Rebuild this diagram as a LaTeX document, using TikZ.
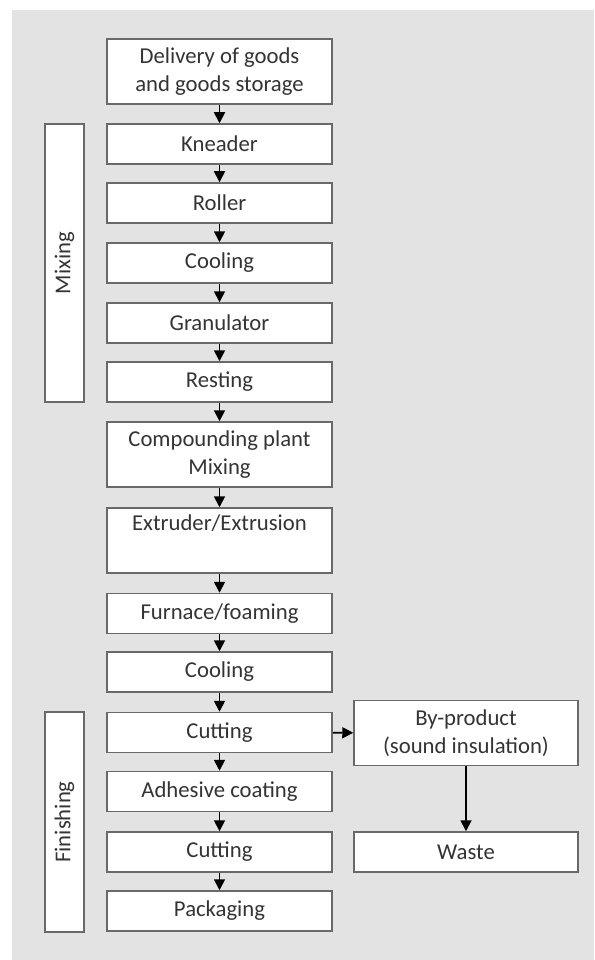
\documentclass[tikz,border=0pt]{standalone}
\usepackage{fontspec}
\setmainfont{Carlito}
\usetikzlibrary{graphs}
\usetikzlibrary{arrows.meta}
\definecolor{bggray}{RGB}{227,227,227}
\definecolor{linegray}{RGB}{105,105,105}
\definecolor{txtgray}{RGB}{52,52,52}
\tikzset{
  stage/.style= {draw=linegray, line width=1.5pt, fill=white, text=txtgray,
    minimum width=225pt, minimum height=40pt, inner sep=0pt, align=center,
    font=\fontsize{22.7}{28}\selectfont},
  tall/.style= {minimum height=65pt},
  phase/.style= {stage, rotate=90, minimum height=39pt},
  flow/.style= {-{Triangle[width=11pt,length=11pt]}, line width=1.8pt, black},
}

\begin{document}
\begin{tikzpicture}[x=1pt, y=-1pt]
  \useasboundingbox (0,0) rectangle (594,960);
  \fill [bggray] (12,10) rectangle (594,960);

  \node [stage, tall] (deliv) at (219.5,71.5) {Delivery of goods\\and goods storage};
  \node [stage] (knead) at (219.5,144) {Kneader};
  \node [stage] (roll) at (219.5,203) {Roller};
  \node [stage] (cool) at (219.5,263) {Cooling};
  \node [stage] (gran) at (219.5,323) {Granulator};
  \node [stage] (rest) at (219.5,382) {Resting};
  \node [stage, tall] (comp) at (219.5,454.5) {Compounding plant\\Mixing};
  \node [stage, tall] (extr) at (219.5,540.5) {Extruder/Extrusion\\\strut};
  \node [stage] (furn) at (219.5,613.5) {Furnace/foaming};
  \node [stage] (coolb) at (219.5,672) {Cooling};
  \node [stage] (cuta) at (219.5,732.5) {Cutting};
  \node [stage] (adh) at (219.5,791.5) {Adhesive coating};
  \node [stage] (cutb) at (219.5,852) {Cutting};
  \node [stage] (pack) at (219.5,911) {Packaging};

  \node [stage, tall, minimum width=224pt] (byprod) at (466,733) {By-product\\(sound insulation)};
  \node [stage, minimum width=224pt] (waste) at (466,852) {Waste};

  \node [phase, minimum width=278pt] (mix) at (64.5,263) {Mixing};
  \node [phase, minimum width=220pt] (fin) at (64.5,822) {Finishing};

  \graph [edges=flow] {
    (deliv) -> (knead) -> (roll) -> (cool) -> (gran) -> (rest) -> (comp)
      -> (extr) -> (furn) -> (coolb) -> (cuta) -> (adh) -> (cutb) -> (pack) ;
    (cuta) -> (byprod) -> (waste) ;
  } ;
\end{tikzpicture}
\end{document}
